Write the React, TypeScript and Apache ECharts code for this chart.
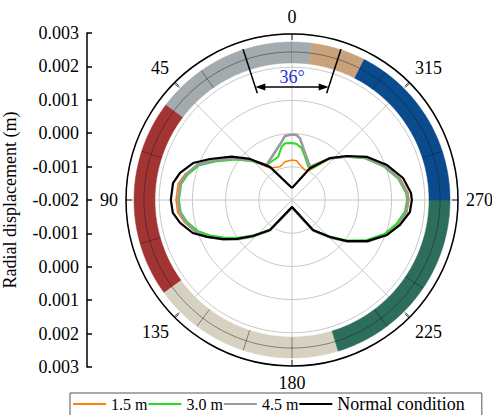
import React, { useEffect, useRef } from 'react';
import * as echarts from 'echarts';

const FONT = "'Liberation Serif', 'Times New Roman', 'DejaVu Serif', serif";

// Left axis tick labels (bottom to top)
const Y_TICK_LABELS = ['0.003', '0.002', '0.001', '0.000', '-0.001', '-0.002', '-0.001', '0.000', '0.001', '0.002', '0.003'];

// Radial axis extent (m)
const R_MIN = -0.002;
const R_MAX = 0.003;
const R_STEP = 0.001;

const SERIES_NAMES = ['1.5 m', '3.0 m', '4.5 m', 'Normal condition'];
const SERIES_COLORS = ['#ff8000', '#22dd22', '#9a9a9a', '#000000'];

// [angle (deg), radial displacement (m)]
const S_15: [number, number][] = [
  [0, -0.000795], [10.4, -0.000828], [19.8, -0.000934], [34.5, -0.000831], [45.7, -0.000313], [54.3, 0.000108],
  [63.4, 0.00062], [69.5, 0.001027], [76.4, 0.001313], [81.9, 0.001464], [90, 0.001494], [96.2, 0.001464],
  [101.6, 0.001313], [108.4, 0.001042], [113.5, 0.000726], [119.5, 0.000334], [125.3, -0.000012], [132.7, -0.000419],
  [143.7, -0.000886], [180, -0.001789], [215, -0.000898], [225.8, -0.000404], [233.3, 0.00006], [241.3, 0.000554],
  [249.8, 0.000997], [257, 0.001268], [264.2, 0.001482], [270, 0.001524], [273.4, 0.001503], [281.2, 0.001328],
  [290.2, 0.000982], [299.8, 0.00056], [308.7, 0.000093], [317.9, -0.000313], [329, -0.000946], [336.6, -0.001015],
  [347.1, -0.000919], [353.2, -0.000807], [360, -0.000795],
];
const S_30: [number, number][] = [
  [0, -0.000283], [7, -0.00028], [10.9, -0.000364], [17.6, -0.000633], [35.9, -0.000699], [45.7, -0.000328],
  [54.3, 0.000093], [63.4, 0.00059], [69.5, 0.000982], [76.4, 0.001238], [81.9, 0.001373], [90, 0.001404],
  [96.2, 0.001373], [101.6, 0.001238], [108.4, 0.000982], [113.5, 0.000681], [119.5, 0.000304], [125.3, -0.000027],
  [132.7, -0.000434], [143.7, -0.000892], [180, -0.001789], [215, -0.000904], [225.8, -0.000419], [233.3, 0.000042],
  [241.3, 0.00053], [249.8, 0.000967], [257, 0.001223], [264.2, 0.001419], [270, 0.001464], [273.4, 0.001443],
  [281.2, 0.001268], [290.2, 0.000937], [299.8, 0.00053], [308.7, 0.000078], [317.9, -0.000328], [328.1, -0.000877],
  [333.9, -0.000883], [343.3, -0.000639], [349.4, -0.000416], [355.2, -0.000307], [360, -0.000283],
];
const S_45: [number, number][] = [
  [0, -0.000027], [6.2, -0.00006], [10, -0.000217], [19.5, -0.000467], [35.9, -0.000699], [45.7, -0.000298],
  [54.3, 0.000139], [63.4, 0.000651], [69.5, 0.001042], [76.4, 0.001283], [81.9, 0.001404], [90, 0.001434],
  [96.2, 0.001404], [101.6, 0.001283], [108.4, 0.001057], [113.5, 0.000771], [119.5, 0.000395], [125.3, 0.000048],
  [132.7, -0.000373], [143.7, -0.000855], [180, -0.001774], [215, -0.00087], [225.8, -0.000373], [233.3, 0.000093],
  [241.3, 0.000605], [249.8, 0.001042], [257, 0.001298], [264.2, 0.001464], [270, 0.001494], [273.4, 0.001473],
  [281.2, 0.001298], [290.2, 0.000967], [299.8, 0.00056], [308.7, 0.000093], [317.9, -0.000313], [331.6, -0.000858],
  [344.4, -0.000539], [352.6, -0.000127], [355.9, -0.000036], [360, -0.000027],
];
const S_NORMAL: [number, number][] = [
  [0, -0.00164], [33.7, -0.0008], [45.7, -0.00023], [54.3, 0.00024], [63.4, 0.00076], [69.5, 0.00118],
  [76.4, 0.00147], [81.9, 0.00162], [90, 0.00165], [96.2, 0.00161], [101.6, 0.00144], [108.4, 0.00115],
  [113.5, 0.00079], [119.5, 0.00039], [125.3, 0.00003], [132.7, -0.0004], [143.7, -0.00088], [180, -0.00179],
  [215, -0.0009], [225.8, -0.0004], [233.3, 0.00007], [241.3, 0.00058], [249.8, 0.00105], [257, 0.00134],
  [264.2, 0.00157], [270, 0.00161], [273.4, 0.00159], [281.2, 0.00141], [290.2, 0.00105], [299.8, 0.00061],
  [308.7, 0.00012], [317.9, -0.0003], [330.6, -0.0009], [360, -0.00164],
];
const SERIES_DATA = [S_15, S_30, S_45, S_NORMAL];
const SERIES_WIDTHS = [1.6, 2, 2.6, 2.2];

// Outer ring segments (angles in deg)
const SEG_START = [0, 53, 126, 197, 270, 333, 353];
const SEG_END = [53, 126, 197, 270, 333, 353, 360];
const SEG_COLORS = ['#a4abae', '#a23434', '#d6d1c0', '#2c6d5c', '#0a4b8e', '#c9a27b', '#a4abae'];
const SEG_DIVIDERS = [0, 35, 72, 106, 143, 162, 180, 217, 236, 288, 324];
const BAND_INNER = 0.002127;
const BAND_MID = 0.002458;
const BAND_OUTER = 0.002759;

// Annotation
const ANNOT_LABEL = '36°';
const ANNOT_HALF = 18;
const ANNOT_LINE_R0 = 0.00138;
const ANNOT_LINE_R1 = 0.00278;
const ANNOT_ARROW_R = 0.001578;

export default function App() {
  const ref = useRef<HTMLDivElement>(null);
  useEffect(() => {
    if (!ref.current) return;
    const chart = echarts.init(ref.current, undefined, { renderer: 'svg' });
    const darkLine = 'rgba(25,25,25,0.45)';

    const bandSeries = {
      type: 'custom',
      coordinateSystem: 'polar',
      silent: true,
      z: 3,
      data: SEG_START.map((s, i) => [BAND_MID, s, SEG_END[i], i]),
      renderItem: (_params: any, api: any) => {
        const a0 = api.value(1) as number;
        const a1 = api.value(2) as number;
        const ci = api.value(3) as number;
        const outer: number[][] = [];
        const inner: number[][] = [];
        const mid: number[][] = [];
        const n = Math.max(2, Math.ceil(a1 - a0));
        for (let i = 0; i <= n; i++) {
          const a = a0 + ((a1 - a0) * i) / n;
          outer.push(api.coord([BAND_OUTER, a]));
          inner.push(api.coord([BAND_INNER, a]));
          mid.push(api.coord([BAND_MID, a]));
        }
        const children: any[] = [
          {
            type: 'polygon',
            shape: { points: outer.concat(inner.slice().reverse()) },
            style: { fill: SEG_COLORS[ci], stroke: SEG_COLORS[ci], lineWidth: 0.5 },
          },
          { type: 'polyline', shape: { points: mid }, style: { stroke: darkLine, lineWidth: 1, fill: 'none' } },
        ];
        SEG_DIVIDERS.filter((d) => d >= a0 && d < a1).forEach((d) => {
          const p = api.coord([BAND_INNER, d]);
          const q = api.coord([BAND_OUTER, d]);
          children.push({
            type: 'line',
            shape: { x1: p[0], y1: p[1], x2: q[0], y2: q[1] },
            style: { stroke: darkLine, lineWidth: 1 },
          });
        });
        return { type: 'group', children };
      },
    };

    const annotSeries = {
      type: 'custom',
      coordinateSystem: 'polar',
      silent: true,
      z: 5,
      data: [[ANNOT_ARROW_R, 0]],
      renderItem: (_params: any, api: any) => {
        const L = api.coord([ANNOT_ARROW_R, ANNOT_HALF]);
        const R = api.coord([ANNOT_ARROW_R, 360 - ANNOT_HALF]);
        const la = api.coord([ANNOT_LINE_R0, ANNOT_HALF]);
        const lb = api.coord([ANNOT_LINE_R1, ANNOT_HALF]);
        const ra = api.coord([ANNOT_LINE_R0, 360 - ANNOT_HALF]);
        const rb = api.coord([ANNOT_LINE_R1, 360 - ANNOT_HALF]);
        const st = { stroke: '#000', lineWidth: 1.5 };
        return {
          type: 'group',
          children: [
            { type: 'line', shape: { x1: la[0], y1: la[1], x2: lb[0], y2: lb[1] }, style: st },
            { type: 'line', shape: { x1: ra[0], y1: ra[1], x2: rb[0], y2: rb[1] }, style: st },
            { type: 'line', shape: { x1: L[0] + 6, y1: L[1], x2: R[0] - 6, y2: R[1] }, style: st },
            {
              type: 'polygon',
              shape: { points: [[L[0], L[1]], [L[0] + 10, L[1] - 3.5], [L[0] + 10, L[1] + 3.5]] },
              style: { fill: '#000' },
            },
            {
              type: 'polygon',
              shape: { points: [[R[0], R[1]], [R[0] - 10, R[1] - 3.5], [R[0] - 10, R[1] + 3.5]] },
              style: { fill: '#000' },
            },
            {
              type: 'text',
              x: (L[0] + R[0]) / 2,
              y: L[1] - 1,
              style: {
                text: ANNOT_LABEL,
                fill: '#1c2fd6',
                fontSize: 18,
                fontFamily: FONT,
                align: 'center',
                verticalAlign: 'bottom',
              },
            },
          ],
        };
      },
    };

    const lineSeries = SERIES_NAMES.map((name, i) => ({
      name,
      type: 'line',
      coordinateSystem: 'polar',
      symbol: 'none',
      smooth: false,
      z: 4,
      color: SERIES_COLORS[i],
      lineStyle: { color: SERIES_COLORS[i], width: SERIES_WIDTHS[i] },
      data: SERIES_DATA[i].map(([a, r]) => [r, a]),
    }));

    chart.setOption({
      animation: false,
      backgroundColor: '#fff',
      textStyle: { fontFamily: FONT },
      polar: { center: [292, 200], radius: 166 },
      angleAxis: {
        type: 'value',
        min: 0,
        max: 360,
        interval: 45,
        startAngle: 90,
        clockwise: false,
        axisLine: { lineStyle: { color: '#000', width: 1.5 } },
        axisTick: { inside: true, length: 6, lineStyle: { color: '#000', width: 1.5 } },
        axisLabel: {
          margin: 8,
          fontSize: 18,
          color: '#000',
          fontFamily: FONT,
          formatter: (v: number) => (v === 360 ? '' : String(v)),
        },
        splitLine: { lineStyle: { color: '#c8c8c8', width: 1 } },
      },
      radiusAxis: {
        type: 'value',
        min: R_MIN,
        max: R_MAX,
        interval: R_STEP,
        axisLine: { show: false },
        axisTick: { show: false },
        axisLabel: { show: false },
        splitLine: { lineStyle: { color: '#c8c8c8', width: 1 } },
      },
      grid: { left: 86, top: 33, height: 334, width: 2 },
      xAxis: { type: 'value', show: false },
      yAxis: {
        type: 'category',
        data: Y_TICK_LABELS,
        boundaryGap: false,
        name: 'Radial displacement (m)',
        nameLocation: 'middle',
        nameGap: 68,
        nameTextStyle: { fontSize: 18, color: '#000', fontFamily: FONT },
        axisLine: { lineStyle: { color: '#000', width: 1.5 } },
        axisTick: { inside: true, length: 5, interval: 0, lineStyle: { color: '#000', width: 1.5 } },
        axisLabel: { interval: 0, margin: 8, fontSize: 18, color: '#000', fontFamily: FONT },
        splitLine: { show: false },
      },
      legend: {
        data: SERIES_NAMES,
        left: 70,
        top: 393,
        orient: 'horizontal',
        icon: 'rect',
        itemWidth: 33,
        itemHeight: 2,
        itemGap: 1,
        padding: [2, 17, 4, 3],
        borderColor: '#555',
        borderWidth: 1,
        selectedMode: false,
        formatter: (name: string) => (name === SERIES_NAMES[3] ? `{w|${name}}` : name),
        textStyle: {
          fontSize: 16,
          color: '#000',
          fontFamily: FONT,
          rich: { w: { fontSize: 18, color: '#000', fontFamily: FONT } },
        },
      },
      series: [bandSeries, ...lineSeries, annotSeries],
    });
    return () => chart.dispose();
  }, []);
  return <div ref={ref} style={{ position: 'absolute', left: 0, top: 0, width: 492, height: 415 }} />;
}
